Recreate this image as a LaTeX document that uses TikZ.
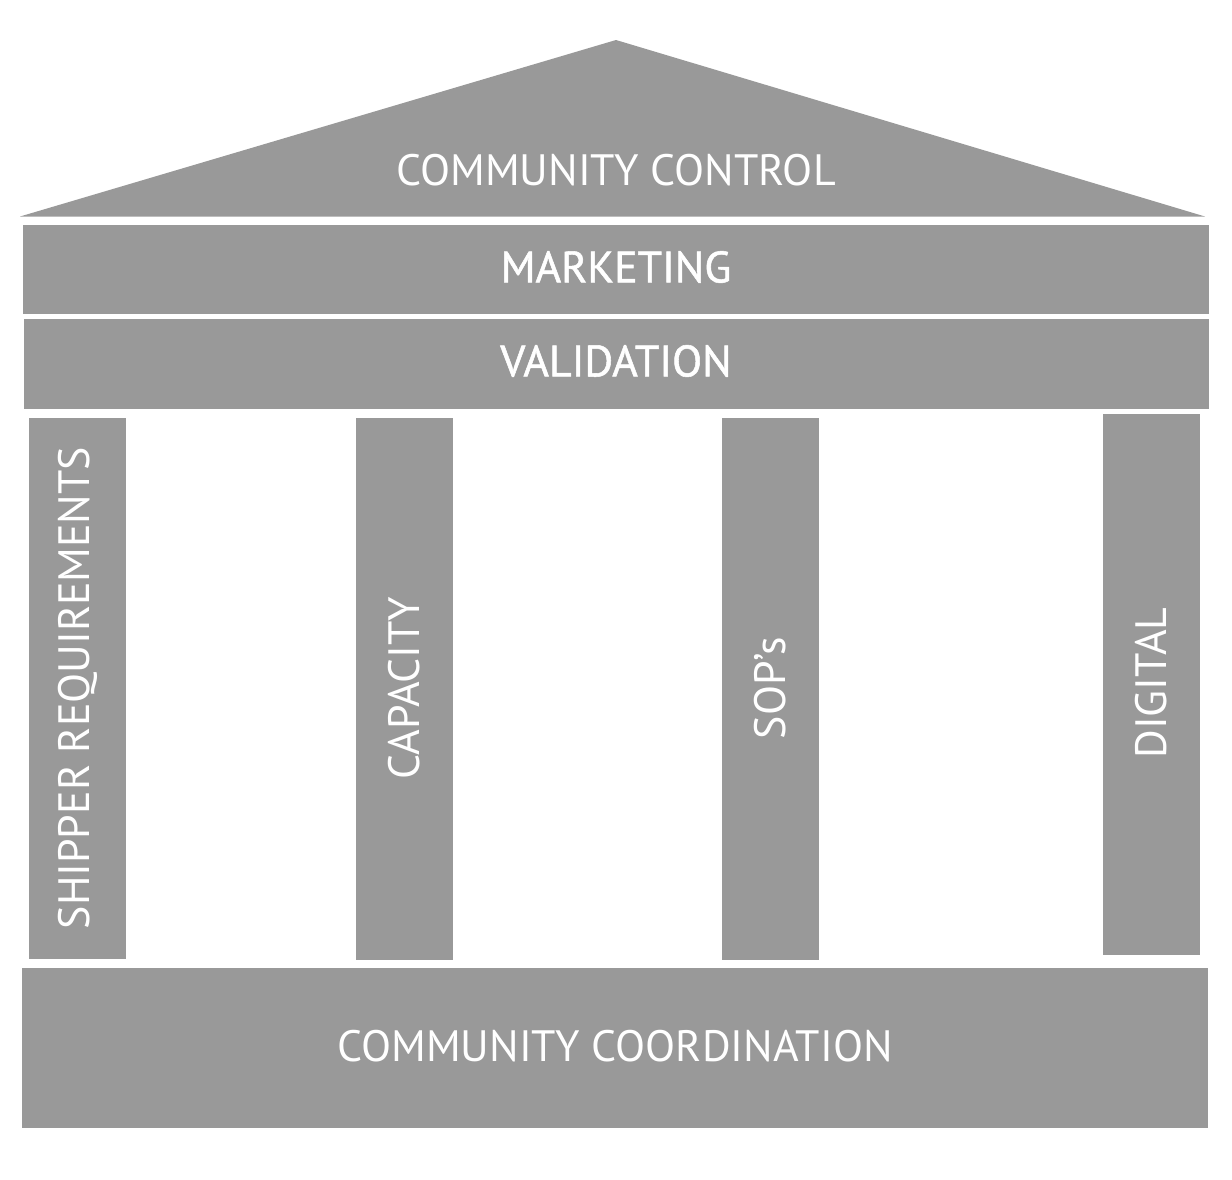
\documentclass[tikz,border=0pt]{standalone}
\usepackage{fontspec}
\setmainfont{PT Sans}
\newfontfamily\heavyfont[FakeBold=1.2]{PT Sans}
\definecolor{stone}{HTML}{999999}
\begin{document}
\begin{tikzpicture}[x=0.02cm, y=-0.02cm]
        \tikzstyle{block} = [fill=stone, draw=none]
        \tikzstyle{caption} = [text=white, font=\fontsize{25}{30}\selectfont, inner sep=0pt]
        \tikzstyle{heavycaption} = [caption, font=\heavyfont\fontsize{25}{30}\selectfont]
        \tikzstyle{colcaption} = [caption, rotate=90]

		\useasboundingbox (0,0) rectangle (1232,1180);

		% roof
		\fill[block] (616,40) -- (1205,216.5) -- (20,216.5) -- cycle;
		\node[caption] (control) at (616,170) {COMMUNITY CONTROL};

		% beams
		\fill[block] (23,225) rectangle (1209,314);
		\node[heavycaption] (marketing) at (616,267) {MARKETING};
		\fill[block] (24,319) rectangle (1209,408.5);
		\node[heavycaption] (validation) at (616,361) {VALIDATION};

		% pillars
		\fill[block] (29,418) rectangle (126,958.5);
		\node[colcaption] (shipper) at (78,688) {SHIPPER REQUIREMENTS};
		\fill[block] (356,418) rectangle (453,960);
		\node[colcaption] (capacity) at (404,688) {CAPACITY};
		\fill[block] (722,418) rectangle (819,960);
		\node[colcaption] (sops) at (770,688) {SOP’s};
		\fill[block] (1103,414) rectangle (1200,955);
		\node[colcaption] (digital) at (1151,683) {DIGITAL};

		% base
		\fill[block] (22,968) rectangle (1208,1128);
		\node[caption] (coordination) at (615,1046) {COMMUNITY COORDINATION};

    \end{tikzpicture}
\end{document}
